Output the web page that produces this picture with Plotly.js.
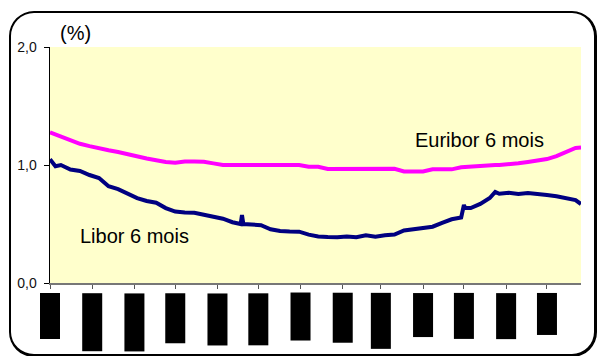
<!DOCTYPE html>
<html>
<head>
<meta charset="utf-8">
<script src="https://cdn.plot.ly/plotly-3.0.1.min.js"></script>
<style>
  html, body { margin: 0; padding: 0; background: #fff; }
  #wrap { position: relative; width: 598px; height: 356px; overflow: hidden; }
  #chart { position: absolute; left: 0; top: 0; width: 598px; height: 356px; }
  #frame { position: absolute; left: 9px; top: 11px; width: 588px; height: 346px; box-sizing: border-box;
           border: 2px solid #000; border-right-width: 3px; border-bottom-width: 3px;
           border-radius: 25px; pointer-events: none; }
</style>
</head>
<body>
<div id="wrap"><div id="chart"></div><div id="frame"></div></div>
<script>
// ---- data ----
const dates = [
 '2012-07-01','2012-07-05','2012-07-09','2012-07-16','2012-07-23','2012-07-30',
 '2012-08-06','2012-08-13','2012-08-20','2012-08-27',
 '2012-09-03','2012-09-10','2012-09-17','2012-09-24',
 '2012-10-01','2012-10-08','2012-10-15','2012-10-22','2012-10-29',
 '2012-11-05','2012-11-12','2012-11-18','2012-11-19','2012-11-20','2012-11-26',
 '2012-12-03','2012-12-10','2012-12-17','2012-12-24','2012-12-31',
 '2013-01-07','2013-01-14','2013-01-21','2013-01-28',
 '2013-02-04','2013-02-11','2013-02-18','2013-02-25',
 '2013-03-04','2013-03-11','2013-03-18','2013-03-25',
 '2013-04-01','2013-04-08','2013-04-15','2013-04-22','2013-04-29',
 '2013-05-01','2013-05-02','2013-05-06','2013-05-13','2013-05-20','2013-05-24','2013-05-27',
 '2013-06-03','2013-06-10','2013-06-17','2013-06-24',
 '2013-07-01','2013-07-08','2013-07-15','2013-07-22','2013-07-26'
];
const libor6m = [
 1.048,0.99,1.0,0.962,0.95,0.915,
 0.89,0.82,0.795,0.757,
 0.72,0.695,0.68,0.635,
 0.605,0.598,0.595,0.578,0.565,
 0.545,0.515,0.50,0.576,0.50,0.495,
 0.49,0.455,0.44,0.436,0.435,
 0.41,0.395,0.39,0.388,
 0.395,0.388,0.405,0.392,
 0.405,0.41,0.445,0.455,
 0.465,0.477,0.51,0.54,0.555,
 0.661,0.635,0.635,0.67,0.72,0.772,0.756,
 0.765,0.755,0.763,0.757,
 0.745,0.735,0.715,0.703,0.669
];
const euribor6m = [
 1.277,1.26,1.24,1.21,1.18,1.16,
 1.14,1.125,1.11,1.09,
 1.07,1.055,1.04,1.025,
 1.02,1.03,1.03,1.028,1.014,
 1.0,1.0,1.0,1.0,1.0,1.0,
 1.0,1.0,1.0,1.0,1.0,
 0.985,0.985,0.966,0.966,
 0.966,0.968,0.968,0.968,
 0.968,0.968,0.945,0.945,
 0.945,0.963,0.963,0.963,0.98,
 0.982,0.985,0.986,0.995,1.0,1.0,1.0,
 1.005,1.014,1.025,1.036,
 1.05,1.075,1.11,1.145,1.148
];
const tickDates = ['2012-07-01','2012-08-01','2012-09-01','2012-10-01','2012-11-01','2012-12-01',
 '2013-01-01','2013-02-01','2013-03-01','2013-04-01','2013-05-01','2013-06-01','2013-07-01'];
const tickLabels = ['juil-12','août-12','sept-12','oct-12','nov-12','déc-12',
 'janv-13','févr-13','mars-13','avr-13','mai-13','juin-13','juil-13'];
const yTicks = [0, 1, 2];
const yTickLabels = ['0,0', '1,0', '2,0'];
const seriesNames = ['Euribor 6 mois', 'Libor 6 mois'];

// ---- styling (label boxes drawn as solid black blocks, as in the reference) ----
const labelBoxLen = [46, 58, 58, 50, 52, 52, 48, 50, 56, 44, 46, 46, 42];

const traces = [
  { x: dates, y: euribor6m, type: 'scatter', mode: 'lines', name: seriesNames[0],
    line: { color: '#FF00FF', width: 4 }, hoverinfo: 'skip' },
  { x: dates, y: libor6m, type: 'scatter', mode: 'lines', name: seriesNames[1],
    line: { color: '#000080', width: 4 }, hoverinfo: 'skip' }
];

const annotations = tickDates.map((d, i) => ({
  x: d, xref: 'x', y: 0, yref: 'paper', yanchor: 'top', xanchor: 'center', yshift: -10,
  text: tickLabels[i], textangle: -90, showarrow: false,
  font: { family: 'Liberation Sans, Arial, sans-serif', size: 11, color: '#000' },
  bgcolor: '#000', borderpad: 0, borderwidth: 0, width: labelBoxLen[i], height: 20
}));
annotations.push(
  { x: 0.015, xref: 'paper', y: 1.059, yref: 'paper', xanchor: 'left', yanchor: 'middle',
    text: '(%)', showarrow: false, font: { family: 'Liberation Sans, Arial, sans-serif', size: 20, color: '#000' } },
  { x: 0.684, xref: 'paper', y: 0.606, yref: 'paper', xanchor: 'left', yanchor: 'middle',
    text: seriesNames[0], showarrow: false, font: { family: 'Liberation Sans, Arial, sans-serif', size: 20, color: '#000' } },
  { x: 0.053, xref: 'paper', y: 0.201, yref: 'paper', xanchor: 'left', yanchor: 'middle',
    text: seriesNames[1], showarrow: false, font: { family: 'Liberation Sans, Arial, sans-serif', size: 20, color: '#000' } }
);

const layout = {
  width: 598, height: 356,
  margin: { l: 50, r: 17, t: 47, b: 73, pad: 0 },
  paper_bgcolor: '#FFFFFF', plot_bgcolor: '#FFFFCC',
  showlegend: false,
  separators: ', ',
  font: { family: 'Liberation Sans, Arial, sans-serif', size: 14, color: '#111' },
  xaxis: {
    type: 'date', range: ['2012-07-01', '2013-07-26'],
    tickvals: tickDates, showticklabels: false,
    ticks: 'outside', ticklen: 4, tickcolor: '#555', tickwidth: 1,
    showline: true, linecolor: '#777', linewidth: 2, showgrid: false, zeroline: false, fixedrange: true
  },
  yaxis: {
    range: [0, 2], tickvals: yTicks, ticktext: yTickLabels,
    ticks: 'outside', ticklen: 5, tickcolor: '#000', tickwidth: 1,
    ticklabelstandoff: 4,
    showline: true, linecolor: '#000', linewidth: 1.5, showgrid: false, zeroline: false, fixedrange: true,
    tickfont: { size: 14, color: '#111' }
  },
  annotations: annotations
};

Plotly.newPlot('chart', traces, layout, { staticPlot: true, displayModeBar: false });
</script>
</body>
</html>
